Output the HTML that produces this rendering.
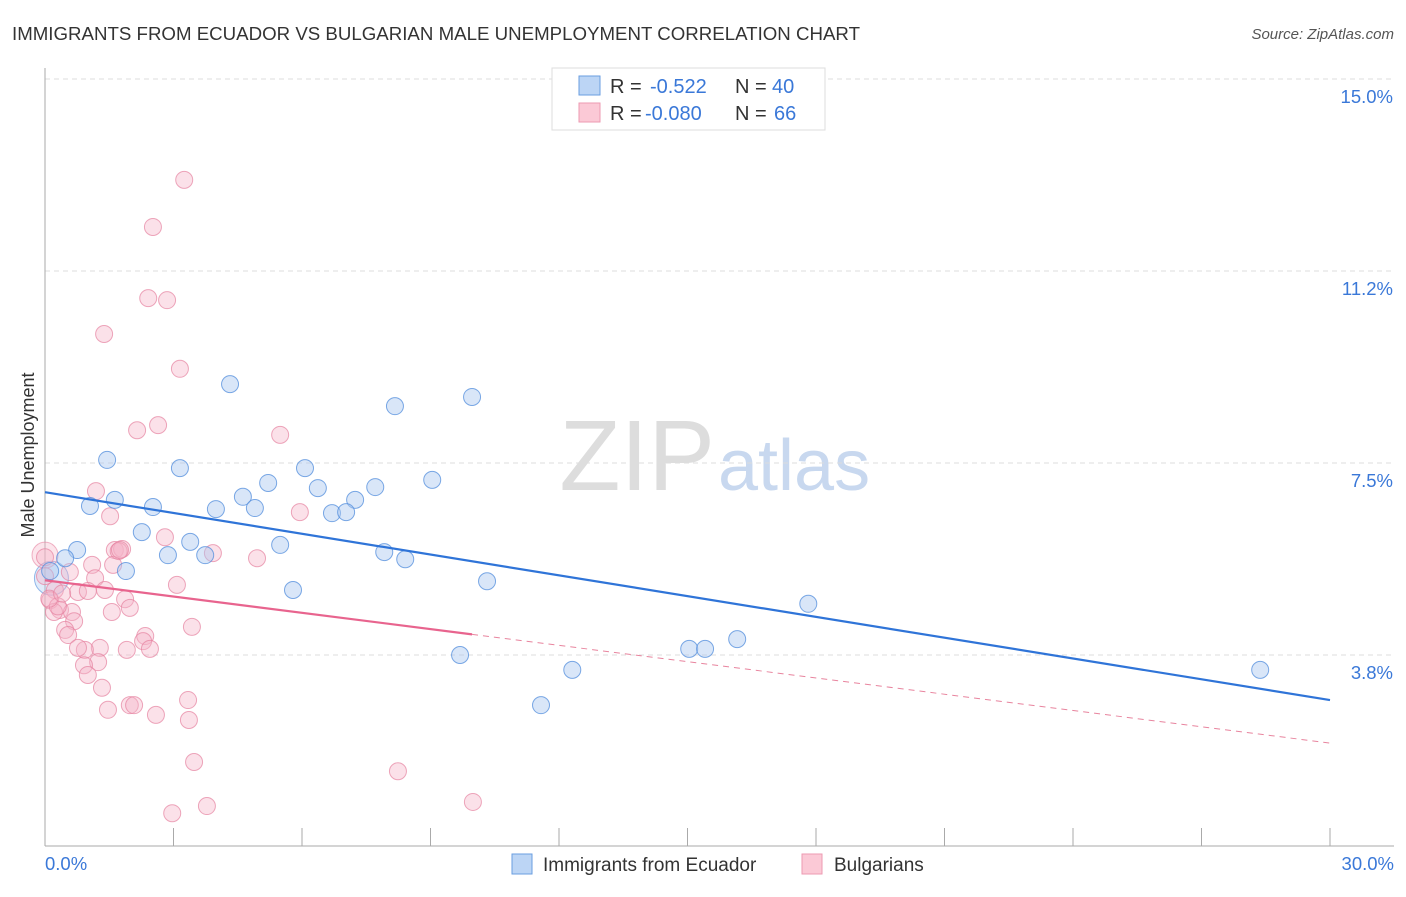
<!DOCTYPE html>
<html><head><meta charset="utf-8"><style>
body{margin:0;background:#fff;font-family:"Liberation Sans",sans-serif;}
svg text{font-family:"Liberation Sans",sans-serif;}
</style></head><body>
<svg id="chart" width="1406" height="892">
<text x="12" y="40" font-size="18" fill="#333" textLength="848" lengthAdjust="spacingAndGlyphs">IMMIGRANTS FROM ECUADOR VS BULGARIAN MALE UNEMPLOYMENT CORRELATION CHART</text>
<text x="1394" y="39" font-size="15" fill="#555" text-anchor="end" font-style="italic">Source: ZipAtlas.com</text>
<text x="715" y="490" font-size="100" fill="#ddd" text-anchor="end" font-family="Liberation Serif">ZIP</text>
<text x="718" y="490" font-size="72" fill="#c8d8ef">atlas</text>
<g id="grid"></g>
<g id="axes"></g>
<g id="pts"></g>
<g id="lines"></g>
<text transform="translate(34,455) rotate(-90)" font-size="18" fill="#333" text-anchor="middle">Male Unemployment</text>
<g>
<rect x="552" y="68" width="273" height="62" fill="#fff" stroke="#ddd"/>
<rect x="579" y="76" width="21" height="19" fill="#bcd5f5" stroke="#6a9ee0"/>
<rect x="579" y="103" width="21" height="19" fill="#fbc9d6" stroke="#ec9ab2"/>
<text y="93" font-size="20" fill="#333"><tspan x="610">R =</tspan><tspan x="650" fill="#3a78d8">-0.522</tspan><tspan x="735">N =</tspan><tspan x="772" fill="#3a78d8">40</tspan></text>
<text y="120" font-size="20" fill="#333"><tspan x="610">R =</tspan><tspan x="645" fill="#3a78d8">-0.080</tspan><tspan x="735">N =</tspan><tspan x="774" fill="#3a78d8">66</tspan></text>
</g>
<g>
<rect x="512" y="854" width="20" height="20" fill="#bcd5f5" stroke="#6a9ee0"/>
<text x="543" y="871" font-size="19" fill="#333">Immigrants from Ecuador</text>
<rect x="802" y="854" width="20" height="20" fill="#fbc9d6" stroke="#ec9ab2"/>
<text x="834" y="871" font-size="19" fill="#333">Bulgarians</text>
</g>
</svg>
<script>
const xTicks=[0,3,6,9,12,15,18,21,24,27,30];
const yTicks=[3.75,7.5,11.25,15];
const yTickLabels=["3.8%","7.5%","11.2%","15.0%"];
const blueX=[4.32,8.17,9.97,1.45,3.15,6.07,9.04,5.21,6.37,7.71,1.63,1.05,2.52,4.62,3.99,4.90,7.24,6.70,7.03,2.26,5.49,3.39,0.75,0.47,2.87,3.74,7.92,8.41,1.89,0.12,10.32,5.79,17.82,16.16,15.04,15.41,9.69,12.31,28.37,11.58];
const blueY=[9.04,8.61,8.79,7.56,7.40,7.40,7.17,7.11,7.01,7.03,6.78,6.66,6.64,6.84,6.60,6.62,6.78,6.52,6.54,6.15,5.90,5.96,5.80,5.64,5.70,5.70,5.76,5.62,5.39,5.39,5.19,5.02,4.75,4.06,3.87,3.87,3.75,3.46,3.46,2.77];
const pinkX=[3.25,2.52,2.41,2.85,1.38,3.15,2.64,2.15,5.49,1.19,1.52,5.95,2.80,3.92,1.63,1.80,4.95,0,1.10,1.59,0.58,1.17,3.08,0.23,0.77,1.00,1.40,1.87,0.12,1.98,0.35,0.63,1.56,0.21,0.68,3.43,0.47,0.54,2.34,2.29,1.28,1.91,2.45,0.93,0.77,1.24,0.91,1.00,1.33,3.34,1.98,2.08,1.47,2.59,3.36,3.48,8.24,3.78,9.99,2.97,0,1.72,1.75,0.30,0.10,0.40];
const pinkY=[13.03,12.11,10.72,10.68,10.02,9.34,8.24,8.14,8.05,6.95,6.46,6.54,6.05,5.74,5.80,5.82,5.64,5.66,5.51,5.51,5.37,5.25,5.12,5.02,4.98,5.00,5.02,4.84,4.82,4.67,4.63,4.59,4.59,4.59,4.41,4.30,4.24,4.14,4.12,4.02,3.89,3.85,3.87,3.85,3.89,3.61,3.55,3.36,3.11,2.87,2.77,2.77,2.68,2.58,2.48,1.66,1.48,0.80,0.88,0.66,5.29,5.78,5.80,4.70,4.85,4.95];
const blueTrend=[6.93,2.87];
const pinkTrend=[5.21,2.03];
const pinkSolidEnd=9.97;
const X=v=>45+v/30*1285, Y=v=>847-v*51.2;
const NS="http://www.w3.org/2000/svg";
function mk(tag,attrs,parent){const e=document.createElementNS(NS,tag);for(const k in attrs)e.setAttribute(k,attrs[k]);document.getElementById(parent).appendChild(e);return e;}
yTicks.forEach((t,i)=>{
 const g=mk('line',{x1:45,x2:1394,y1:Y(t),y2:Y(t),stroke:'#ddd','stroke-dasharray':'5,4'},'grid');
 
 
 const tx=mk('text',{x:1393,y:Y(t)+24,'font-size':18.5,fill:'#3a78d8','text-anchor':'end'},'axes');
 tx.textContent=yTickLabels[i];
 
 
});
const ax=mk('line',{x1:45,x2:45,y1:68,y2:846,stroke:'#aaa'},'axes');


const bx=mk('line',{x1:45,x2:1394,y1:846,y2:846,stroke:'#aaa'},'axes');


xTicks.forEach(t=>{
 const l=mk('line',{x1:X(t),x2:X(t),y1:828,y2:846,stroke:'#aaa'},'axes');
 
 
});
[[0,'0.0%','start',45],[30,'30.0%','end',1394]].forEach(d=>{
 const t=mk('text',{x:d[3],y:870,'font-size':18.5,fill:'#3a78d8','text-anchor':d[2]},'axes');
 t.textContent=d[1];
 
 
});
const bb=mk('circle',{cx:X(0.15),cy:Y(5.25),r:17,fill:'rgba(170,200,240,0.35)',stroke:'rgba(80,140,220,0.6)'},'pts');


const pb=mk('circle',{cx:X(0),cy:Y(5.7),r:13,fill:'rgba(245,180,200,0.35)',stroke:'rgba(230,130,160,0.6)'},'pts');


pinkX.forEach((v,i)=>{
 const c=mk('circle',{cx:X(v),cy:Y(pinkY[i]),r:8.5,fill:'rgba(245,180,200,0.4)',stroke:'rgba(230,130,160,0.7)'},'pts');
 
 
});
blueX.forEach((v,i)=>{
 const c=mk('circle',{cx:X(v),cy:Y(blueY[i]),r:8.5,fill:'rgba(170,200,240,0.45)',stroke:'rgba(80,140,220,0.75)'},'pts');
 
 
});
const bl=mk('line',{x1:X(0),y1:Y(blueTrend[0]),x2:X(30),y2:Y(blueTrend[1]),stroke:'#2f74d8','stroke-width':2.2},'lines');


const pAt=x=>pinkTrend[0]+(pinkTrend[1]-pinkTrend[0])*x/30;
const ps=mk('line',{x1:X(0),y1:Y(pAt(0)),x2:X(pinkSolidEnd),y2:Y(pAt(pinkSolidEnd)),stroke:'#e8648e','stroke-width':2.2},'lines');


const pd=mk('line',{x1:X(pinkSolidEnd),y1:Y(pAt(pinkSolidEnd)),x2:X(30),y2:Y(pAt(30)),stroke:'#e8849e','stroke-width':1,'stroke-dasharray':'6,5'},'lines');


</script>
</body></html>
